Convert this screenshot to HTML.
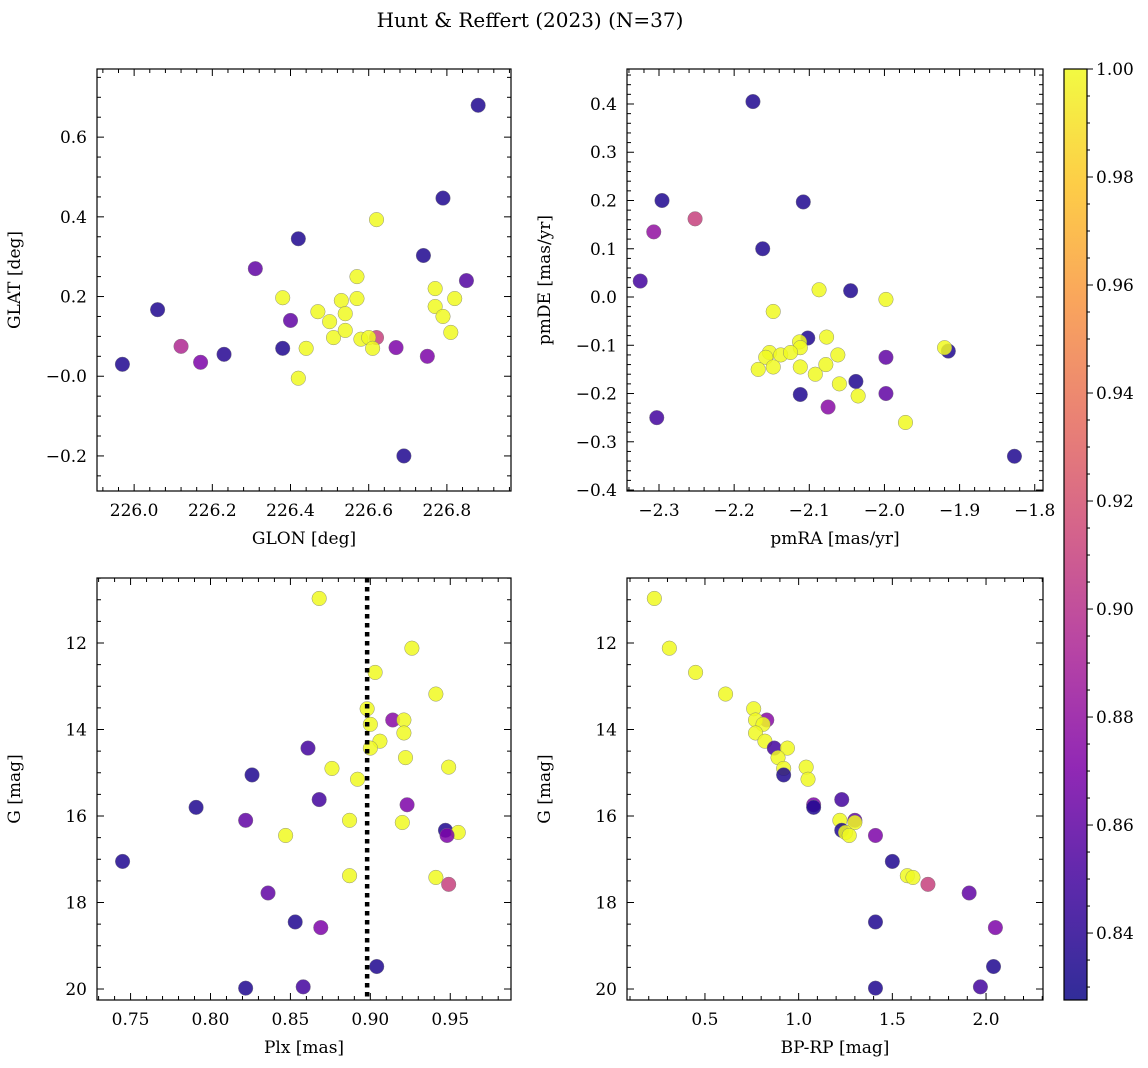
<!DOCTYPE html>
<html><head><meta charset="utf-8"><style>
html,body{margin:0;padding:0;background:#fff;}
svg{display:block;font-family:"DejaVu Serif","Liberation Serif",serif;}
</style></head><body>
<svg id="fig" width="1148" height="1068" viewBox="0 0 1148 1068" xmlns="http://www.w3.org/2000/svg">
<text x="530" y="27" text-anchor="middle" font-size="20">Hunt &amp; Reffert (2023) (N=37)</text>
</svg>
<script>
// ---- Panel 1: GLON vs GLAT ----
const p1Glon = [225.97,226.06,226.23,226.38,226.42,226.69,226.74,226.79,226.88,226.12,226.17,226.31,226.40,226.62,226.67,226.75,226.85,
226.38,226.44,226.42,226.47,226.50,226.51,226.53,226.54,226.54,226.57,226.57,226.58,226.60,226.61,226.62,226.77,226.77,226.79,226.81,226.82];
const p1Glat = [0.03,0.167,0.055,0.07,0.345,-0.2,0.303,0.447,0.68,0.075,0.035,0.27,0.14,0.097,0.072,0.05,0.24,
0.197,0.07,-0.005,0.162,0.137,0.097,0.19,0.157,0.115,0.25,0.195,0.093,0.097,0.07,0.393,0.175,0.22,0.15,0.11,0.195];
const p1Prob = [0.835,0.835,0.838,0.835,0.835,0.835,0.835,0.835,0.835,0.895,0.87,0.86,0.86,0.91,0.87,0.87,0.855,
1,1,1,1,1,1,1,1,1,1,1,1,1,1,1,1,1,1,1,1];
// ---- Panel 2: pmRA vs pmDE ----
const p2Pmra = [-2.175,-2.296,-2.162,-2.108,-2.325,-2.045,-2.102,-2.112,-2.038,-1.915,-1.827,-2.303,-2.307,-2.252,-1.998,-1.998,-2.075,
-2.148,-2.087,-1.998,-2.077,-2.113,-2.112,-2.153,-2.158,-2.138,-2.062,-2.168,-2.148,-2.112,-2.078,-2.092,-2.060,-2.035,-1.972,-1.920,-2.125];
const p2Pmde = [0.405,0.2,0.1,0.197,0.033,0.013,-0.085,-0.202,-0.175,-0.112,-0.33,-0.25,0.135,0.162,-0.125,-0.2,-0.228,
-0.03,0.015,-0.005,-0.083,-0.093,-0.105,-0.115,-0.125,-0.12,-0.12,-0.15,-0.145,-0.145,-0.14,-0.16,-0.18,-0.205,-0.26,-0.105,-0.115];
const p2Prob = [0.835,0.835,0.835,0.835,0.85,0.835,0.835,0.835,0.835,0.835,0.835,0.85,0.88,0.91,0.86,0.86,0.875,
1,1,1,1,1,1,1,1,1,1,1,1,1,1,1,1,1,1,1,1];
// ---- Panels 3 & 4: shared stars ----
const plx  = [0.868,0.926,0.903,0.941,0.898,0.914,0.921,0.900,0.921,0.906,0.861,0.900,0.922,0.949,0.876,0.826,0.892,0.868,0.923,0.791,0.887,0.822,0.920,0.947,0.955,0.948,0.847,0.745,0.887,0.941,0.949,0.836,0.853,0.869,0.904,0.822,0.858];
const gmag = [10.97,12.12,12.68,13.18,13.52,13.78,13.78,13.88,14.08,14.27,14.43,14.43,14.65,14.87,14.9,15.05,15.15,15.62,15.74,15.8,16.1,16.1,16.15,16.33,16.38,16.45,16.45,17.05,17.38,17.42,17.58,17.78,18.45,18.58,19.48,19.98,19.95];
const bprp = [0.23,0.31,0.45,0.61,0.76,0.83,0.77,0.81,0.77,0.82,0.87,0.94,0.89,1.04,0.92,0.92,1.05,1.23,1.08,1.08,1.22,1.30,1.30,1.23,1.25,1.41,1.27,1.50,1.58,1.61,1.69,1.91,1.41,2.05,2.04,1.41,1.97];
const prob = [1,1,1,1,1,0.875,1,1,1,1,0.85,1,1,1,1,0.835,1,0.85,0.87,0.835,1,0.86,1,0.835,1,0.87,1,0.835,1,1,0.91,0.86,0.835,0.87,0.835,0.835,0.85];
const plxLine = [0.898];
const cbTicks = [0.84,0.86,0.88,0.90,0.92,0.94,0.96,0.98,1.00];

const NS="http://www.w3.org/2000/svg";
const svg=document.getElementById('fig');
const FS=17;
function el(tag,attrs,parent){const e=document.createElementNS(NS,tag);for(const k in attrs)e.setAttribute(k,attrs[k]);(parent||svg).appendChild(e);return e;}
const VMIN=0.8276,VMAX=1.0;
const stops=[[0,[13,8,135]],[0.125,[65,4,157]],[0.25,[126,3,168]],[0.375,[170,35,149]],[0.5,[204,71,120]],[0.625,[230,108,92]],[0.75,[248,149,64]],[0.875,[253,196,39]],[1,[240,249,33]]];
function cmap(v){let t=(v-VMIN)/(VMAX-VMIN);t=Math.max(0,Math.min(1,t));
 for(let i=1;i<stops.length;i++){if(t<=stops[i][0]){const a=stops[i-1],b=stops[i];const f=(t-a[0])/(b[0]-a[0]);
 const c=a[1].map((x,j)=>Math.round(x+(b[1][j]-x)*f));return `rgb(${c[0]},${c[1]},${c[2]})`;}}return 'rgb(240,249,33)';}
function fmt(v,d){let s=v.toFixed(d);if(v<0)s='\u2212'+s.slice(1);return s;}

function panel(name,box,xd,yd,xt,xmin,yt,ymin,xdec,ydec,xlab,ylab,xs,ys,ps){
 const [L,T,R,B]=box;
 const g=el('g',{}, svg);
 
 
 const X=v=>L+(v-xd[0])/(xd[1]-xd[0])*(R-L);
 const Y=v=>T+(v-yd[0])/(yd[1]-yd[0])*(B-T);
 ps.forEach((p,i)=>{const c=el('circle',{cx:X(xs[i]),cy:Y(ys[i]),r:7.3,fill:cmap(ps[i]),'fill-opacity':0.85,stroke:'#777','stroke-width':0.4},g);
  
  });
 const f=el('rect',{x:L,y:T,width:R-L,height:B-T,fill:'none',stroke:'#000','stroke-width':1.2},g);
 
 
 const xlo=Math.min(...xd),xhi=Math.max(...xd),ylo=Math.min(...yd),yhi=Math.max(...yd);
 for(let v=Math.ceil(xlo/xmin-1e-6)*xmin;v<=xhi+1e-9;v+=xmin){const x=X(v);
  const maj=Math.abs(v/xt-Math.round(v/xt))<1e-4;const len=maj?7:4;
  el('line',{x1:x,y1:B,x2:x,y2:B-len,stroke:'#000','stroke-width':1},g);
  el('line',{x1:x,y1:T,x2:x,y2:T+len,stroke:'#000','stroke-width':1},g);
  if(maj){const t=el('text',{x:x,y:B+25,'text-anchor':'middle','font-size':FS},g);t.textContent=fmt(v,xdec);
   
   }}
 for(let v=Math.ceil(ylo/ymin-1e-6)*ymin;v<=yhi+1e-9;v+=ymin){const y=Y(v);
  const maj=Math.abs(v/yt-Math.round(v/yt))<1e-4;const len=maj?7:4;
  el('line',{x1:L,y1:y,x2:L+len,y2:y,stroke:'#000','stroke-width':1},g);
  el('line',{x1:R,y1:y,x2:R-len,y2:y,stroke:'#000','stroke-width':1},g);
  if(maj){const t=el('text',{x:L-10,y:y+6,'text-anchor':'end','font-size':FS},g);t.textContent=fmt(v,ydec);
   
   }}
 const xl=el('text',{x:(L+R)/2,y:B+53,'text-anchor':'middle','font-size':FS},g);xl.textContent=xlab;
 
 
 const cy=(T+B)/2;
 const yl=el('text',{x:L-77,y:cy,'text-anchor':'middle','font-size':FS,transform:`rotate(-90 ${L-77} ${cy})`},g);yl.textContent=ylab;
 
 
 return {X,Y,g};
}
panel('glon-glat-panel',[97,69,511,491],[225.905,226.964],[0.771,-0.288],0.2,0.04,0.2,0.05,1,1,'GLON [deg]','GLAT [deg]',p1Glon,p1Glat,p1Prob);
panel('pm-panel',[627,69,1043,491],[-2.3426,-1.789],[0.4725,-0.402],0.1,0.02,0.1,0.02,1,1,'pmRA [mas/yr]','pmDE [mas/yr]',p2Pmra,p2Pmde,p2Prob);
const p3=panel('plx-g-panel',[97,578,511,1000],[0.729,0.988],[10.497,20.254],0.05,0.01,2,0.5,2,0,'Plx [mas]','G [mag]',plx,gmag,prob);
panel('cmd-panel',[627,578,1043,1000],[0.084,2.304],[10.497,20.254],0.5,0.1,2,0.5,1,0,'BP-RP [mag]','G [mag]',bprp,gmag,prob);
plxLine.forEach(v=>{const l=el('line',{x1:p3.X(v),y1:578,x2:p3.X(v),y2:1000,stroke:'#000','stroke-width':4.5,'stroke-dasharray':'4.5 4.5'},p3.g);
 
 });
const cb=el('g',{});


const CL=1064,CR=1087,CT=69,CB=1000;
const defs=el('defs',{},cb);
const grad=el('linearGradient',{id:'cbg',x1:0,y1:1,x2:0,y2:0},defs);
stops.forEach(s=>el('stop',{offset:s[0],'stop-color':`rgb(${s[1].join(',')})`},grad));
el('rect',{x:CL,y:CT,width:CR-CL,height:CB-CT,fill:'url(#cbg)','fill-opacity':0.85},cb);
el('rect',{x:CL,y:CT,width:CR-CL,height:CB-CT,fill:'none',stroke:'#000','stroke-width':1.2},cb);
const CY=v=>CB-(v-VMIN)/(VMAX-VMIN)*(CB-CT);
for(let v=0.83;v<=1.0001;v+=0.005){const y=CY(v);const maj=Math.abs(v/0.02-Math.round(v/0.02))<1e-3;
 el('line',{x1:CR,y1:y,x2:CR+(maj?6:3),y2:y,stroke:'#000','stroke-width':1},cb);}
cbTicks.forEach(v=>{const t=el('text',{x:CR+9,y:CY(v)+6,'font-size':FS},cb);t.textContent=v.toFixed(2);
 
 });
</script>
</body></html>
